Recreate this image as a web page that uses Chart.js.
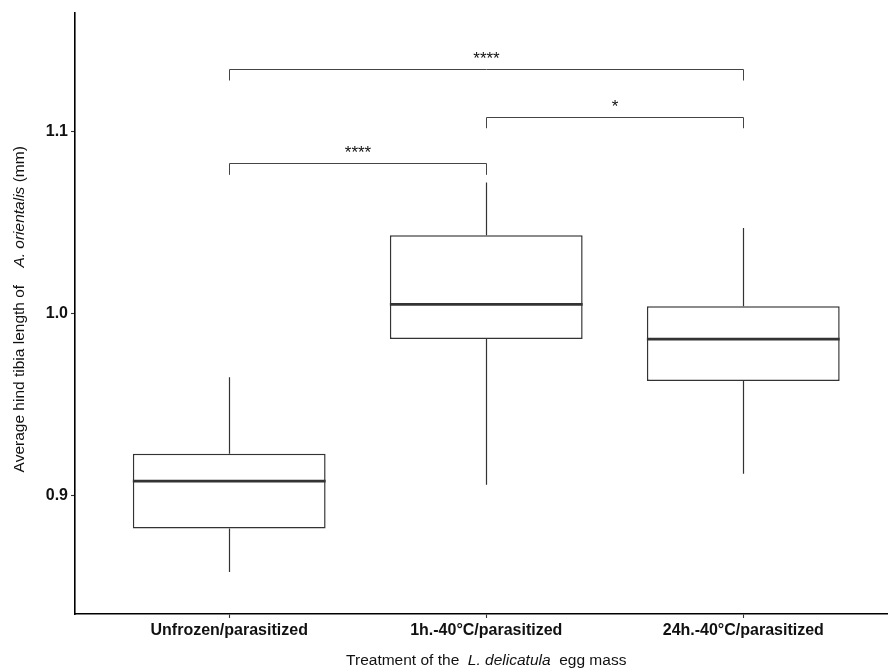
<!DOCTYPE html>
<html>
<head>
<meta charset="utf-8">
<script src="https://cdn.jsdelivr.net/npm/chart.js@4/dist/chart.umd.min.js"></script>
<style>
  html, body { margin: 0; padding: 0; background: #fff; }
  #wrap { width: 888px; height: 669px; }
</style>
</head>
<body>
<div id="wrap"><canvas id="chart" width="888" height="669"></canvas></div>
<script>
// Treatment groups and box-plot statistics of hind tibia length (mm)
const categories = ['Unfrozen/parasitized', '1h.-40°C/parasitized', '24h.-40°C/parasitized'];
const whiskerLow  = [0.858, 0.906, 0.912];
const q1          = [0.882, 0.986, 0.963];
const median      = [0.908, 1.005, 0.986];
const q3          = [0.923, 1.043, 1.004];
const whiskerHigh = [0.965, 1.072, 1.047];
const yTicks = [0.9, 1.0, 1.1];

// Pairwise significance brackets: group indices (1-based), bracket height, label
const bracketFrom   = [1, 2, 1];
const bracketTo     = [2, 3, 3];
const bracketLevel  = [1.0826, 1.1082, 1.1344];
const bracketLabels = ['****', '*', '****'];
const bracketTip = 0.0064;

const FONT = '"Liberation Sans", Arial, Helvetica, sans-serif';
const INK = '#333333';

const boxPlotExtras = {
  id: 'boxPlotExtras',
  beforeDatasetsDraw(chart) {
    const { ctx, scales: { x, y } } = chart;
    ctx.save();
    ctx.strokeStyle = INK;
    ctx.lineWidth = 1.2;
    ctx.lineCap = 'butt';
    categories.forEach((c, i) => {
      const px = Math.round(x.getPixelForValue(i + 1)) + 0.5;
      ctx.beginPath();
      ctx.moveTo(px, y.getPixelForValue(whiskerHigh[i]));
      ctx.lineTo(px, y.getPixelForValue(q3[i]));
      ctx.moveTo(px, y.getPixelForValue(q1[i]));
      ctx.lineTo(px, y.getPixelForValue(whiskerLow[i]));
      ctx.stroke();
    });
    ctx.restore();
  },
  afterDatasetsDraw(chart) {
    const { ctx, scales: { x, y } } = chart;
    const meta = chart.getDatasetMeta(0);
    ctx.save();
    // median lines
    ctx.strokeStyle = INK;
    ctx.lineWidth = 2.8;
    meta.data.forEach((bar, i) => {
      const half = bar.width / 2;
      const py = y.getPixelForValue(median[i]);
      ctx.beginPath();
      ctx.moveTo(bar.x - half, py);
      ctx.lineTo(bar.x + half, py);
      ctx.stroke();
    });
    // significance brackets
    ctx.strokeStyle = '#444444';
    ctx.lineWidth = 1;
    ctx.fillStyle = '#111111';
    ctx.font = '17px ' + FONT;
    ctx.textAlign = 'center';
    ctx.textBaseline = 'alphabetic';
    bracketLabels.forEach((lab, k) => {
      const x1 = Math.round(x.getPixelForValue(bracketFrom[k])) + 0.5;
      const x2 = Math.round(x.getPixelForValue(bracketTo[k])) + 0.5;
      const yl = Math.round(y.getPixelForValue(bracketLevel[k])) + 0.5;
      const yt = y.getPixelForValue(bracketLevel[k] - bracketTip);
      ctx.beginPath();
      ctx.moveTo(x1, yt);
      ctx.lineTo(x1, yl);
      ctx.lineTo(x2, yl);
      ctx.lineTo(x2, yt);
      ctx.stroke();
      ctx.fillText(lab, (x1 + x2) / 2, yl - 6);
    });
    ctx.restore();
  },
  afterDraw(chart) {
    const { ctx, chartArea, scales: { x } } = chart;
    ctx.save();
    ctx.fillStyle = '#111111';
    ctx.textBaseline = 'middle';
    const drawRuns = (runs, cx, cy) => {
      let total = 0;
      runs.forEach(r => { ctx.font = r.font; r.w = ctx.measureText(r.text).width; total += r.w; });
      let cur = cx - total / 2;
      ctx.textAlign = 'left';
      runs.forEach(r => { ctx.font = r.font; ctx.fillText(r.text, cur, cy); cur += r.w; });
    };
    const reg = '15.5px ' + FONT;
    const ita = 'italic 15.5px ' + FONT;
    // x-axis title, centred on the full panel (0.4 .. 3.6)
    const panelMid = (x.getPixelForValue(0.4) + x.getPixelForValue(3.6)) / 2;
    drawRuns([
      { text: 'Treatment of the  ', font: reg },
      { text: 'L. delicatula', font: ita },
      { text: '  egg mass', font: reg }
    ], panelMid, 661);
    // y-axis title
    ctx.translate(20, (chartArea.top + chartArea.bottom) / 2 - 4);
    ctx.rotate(-Math.PI / 2);
    drawRuns([
      { text: 'Average hind tibia length of    ', font: reg },
      { text: 'A. orientalis', font: ita },
      { text: ' (mm)', font: reg }
    ], 0, 0);
    ctx.restore();
  }
};

new Chart(document.getElementById('chart'), {
  type: 'bar',
  data: {
    datasets: [{
      data: categories.map((c, i) => ({ x: i + 1, y: [q1[i], q3[i]] })),
      backgroundColor: '#ffffff',
      borderColor: INK,
      borderWidth: 1.5,
      borderSkipped: false,
      barPercentage: 0.75,
      categoryPercentage: 1
    }]
  },
  options: {
    responsive: false,
    animation: false,
    devicePixelRatio: 1,
    layout: { padding: { top: 12, left: 0, right: 0, bottom: 0 } },
    plugins: { legend: { display: false }, tooltip: { enabled: false } },
    scales: {
      x: {
        type: 'linear',
        offset: false,
        min: 0.4,
        max: 3.563,
        afterBuildTicks: s => { s.ticks = [1, 2, 3].map(v => ({ value: v })); },
        afterFit: s => { s.height = 55; },
        ticks: {
          autoSkip: false,
          maxRotation: 0,
          padding: 3,
          color: '#111111',
          font: { family: FONT, size: 16, weight: 'bold' },
          callback: v => categories[v - 1]
        },
        grid: { offset: false, drawOnChartArea: false, tickLength: 4, tickColor: INK, tickWidth: 1.1 },
        border: { color: '#000000', width: 1.6 }
      },
      y: {
        type: 'linear',
        min: 0.835,
        max: 1.1653,
        afterBuildTicks: s => { s.ticks = yTicks.map(v => ({ value: v })); },
        afterFit: s => { s.width = 75; },
        ticks: {
          padding: 3,
          color: '#111111',
          font: { family: FONT, size: 16, weight: 'bold' },
          callback: v => v.toFixed(1)
        },
        grid: { drawOnChartArea: false, tickLength: 4, tickColor: INK, tickWidth: 1.1 },
        border: { color: '#000000', width: 1.6 }
      }
    }
  },
  plugins: [boxPlotExtras]
});
</script>
</body>
</html>
